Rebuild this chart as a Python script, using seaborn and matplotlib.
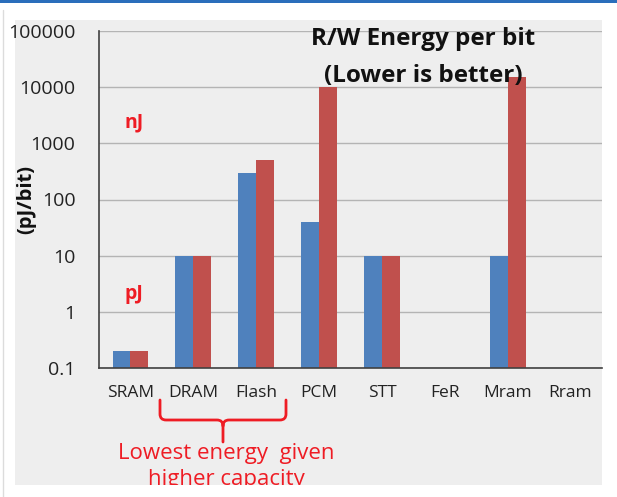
import numpy as np
import pandas as pd
import matplotlib
matplotlib.use('Agg')
import matplotlib.pyplot as plt
import matplotlib.transforms as mtransforms
import seaborn as sns
from matplotlib.patches import Rectangle, PathPatch
from matplotlib.path import Path
from matplotlib.lines import Line2D
from matplotlib.ticker import FuncFormatter, LogLocator, NullFormatter

# data (pJ/bit)
categories = ['SRAM', 'DRAM', 'Flash', 'PCM', 'STT', 'FeR', 'Mram', 'Rram']
measured = ['SRAM', 'DRAM', 'Flash', 'PCM', 'STT', 'Mram']
read_energy = [0.2, 10, 300, 40, 10, 10]
write_energy = [0.2, 10, 500, 10000, 10, 15000]

df = pd.DataFrame({
    'tech': measured * 2,
    'op': ['Read'] * len(measured) + ['Write'] * len(measured),
    'energy': read_energy + write_energy,
})

sns.set_style('white')
plt.rcParams['font.family'] = ['Open Sans', 'DejaVu Sans']

W, H = 617, 497
fig = plt.figure(figsize=(W / 100, H / 100), dpi=100)
# pixel coords of the reference image (y down)
ref = mtransforms.Affine2D().scale(1 / W, -1 / H).translate(0, 1) + fig.transFigure

# slide background
panel = Rectangle((15, 20), 587, 465, transform=ref, facecolor='#eeeeee',
                  edgecolor='none', zorder=-10)
fig.patches.append(panel)
fig.patches.append(Rectangle((0, 0), W, 2.5, transform=ref, facecolor='#2a6ebb',
                             edgecolor='none', zorder=-10))
fig.lines.append(Line2D([3, 3], [10, H], transform=ref, color='#dcdcdc', lw=1,
                        zorder=-10))

ax = fig.add_axes([99 / W, 1 - 368 / H, 503 / W, 337 / H])
ax.set_facecolor('#eeeeee')
sns.barplot(data=df, x='tech', y='energy', hue='op', order=categories,
            hue_order=['Read', 'Write'], palette=['#4f81bd', '#c0504d'],
            width=0.57, gap=0, saturation=1, errorbar=None, legend=False,
            linewidth=0, edgecolor='none', ax=ax)

ax.set_yscale('log')
ax.set_ylim(0.1, 100000)
ax.set_xlim(-0.5, 7.5)
ax.yaxis.set_major_locator(LogLocator(base=10, numticks=10))
ax.yaxis.set_major_formatter(FuncFormatter(lambda v, _: f'{v:g}'))
ax.yaxis.set_minor_locator(LogLocator(base=10, subs=np.arange(2, 10), numticks=20))
ax.yaxis.set_minor_formatter(NullFormatter())
ax.yaxis.grid(True, which='major', color='#b4b4b4', lw=1)
ax.set_axisbelow(True)

for s in ['top', 'right']:
    ax.spines[s].set_visible(False)
for s in ['left', 'bottom']:
    ax.spines[s].set_color('#404040')
    ax.spines[s].set_linewidth(1.2)

ax.set_xticks(range(len(categories)))
ax.set_xticklabels(categories)
ax.set_xticks(np.arange(-0.5, 7, 1), minor=True)
ax.tick_params(axis='x', which='major', length=0, pad=12, labelsize=12.5,
               labelcolor='#222222')
ax.tick_params(axis='x', which='minor', length=5, direction='out', color='#404040')
ax.tick_params(axis='y', which='major', length=5, direction='out', color='#404040',
               pad=12, labelsize=14, labelcolor='#222222')
ax.tick_params(axis='y', which='minor', length=3, direction='out', color='#404040')
ax.set_xlabel('')
ax.set_ylabel('')

fig.text(26, 199, '(pJ/bit)', transform=ref, rotation=90, ha='center', va='center',
         fontsize=14.5, fontweight='bold', color='#111111')

fig.text(423, 45, 'R/W Energy per bit', transform=ref, ha='center', va='baseline',
         fontsize=17.5, fontweight='bold', color='#111111')
fig.text(423, 82, '(Lower is better)', transform=ref, ha='center', va='baseline',
         fontsize=17.5, fontweight='bold', color='#111111')

red = '#ee1c24'
fig.text(134, 127, 'nJ', transform=ref, ha='center', va='baseline', fontsize=14,
         fontweight='bold', color=red)
fig.text(134, 299, 'pJ', transform=ref, ha='center', va='baseline', fontsize=14,
         fontweight='bold', color=red)

# curly bracket under DRAM / Flash
verts = [(160, 400), (160, 414), (160, 420), (166, 420), (217, 420), (223, 420),
         (223, 426), (223, 442),
         (223, 426), (223, 420), (229, 420), (280, 420), (286, 420), (286, 414),
         (286, 400)]
codes = [Path.MOVETO, Path.LINETO, Path.CURVE3, Path.CURVE3, Path.LINETO,
         Path.CURVE3, Path.CURVE3, Path.LINETO,
         Path.MOVETO, Path.CURVE3, Path.CURVE3, Path.LINETO, Path.CURVE3,
         Path.CURVE3, Path.LINETO]
fig.patches.append(PathPatch(Path(verts, codes), transform=ref, facecolor='none',
                             edgecolor=red, lw=2, capstyle='round', joinstyle='round'))

for y, s in [(453, 'Lowest energy  given'), (479, 'higher capacity')]:
    t = fig.text(226, y, s, transform=ref, ha='center', va='center', fontsize=16,
                 color=red)
    t.set_clip_path(panel)

fig.savefig('out.png', dpi=100, facecolor='white')
